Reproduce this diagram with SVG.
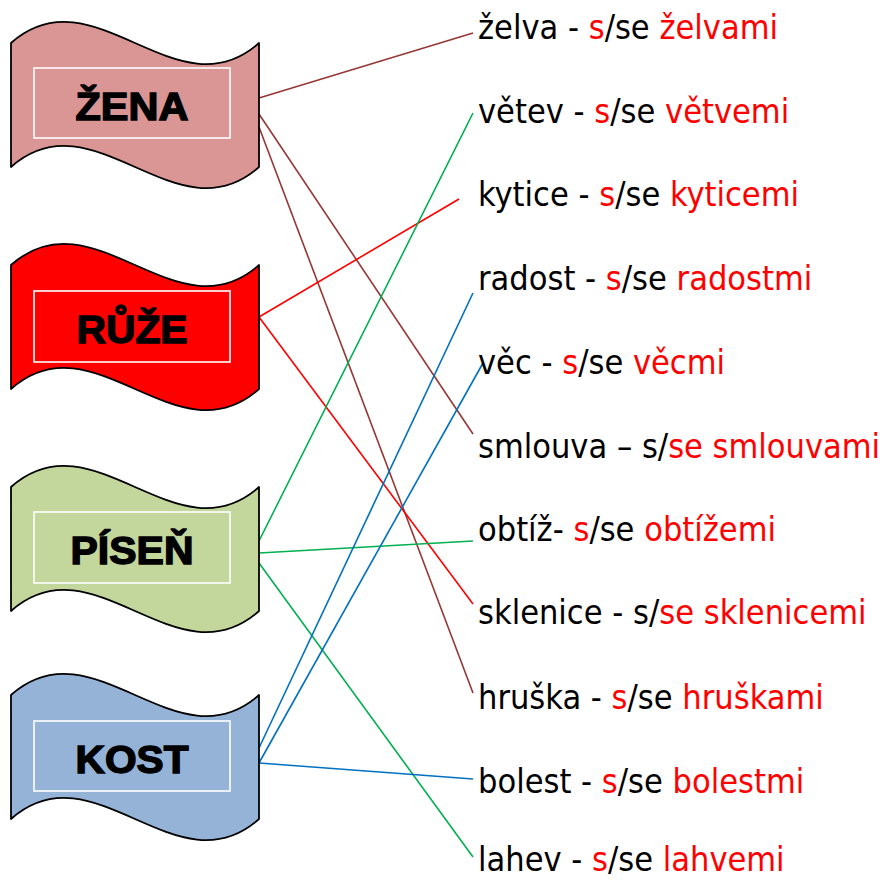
<svg xmlns="http://www.w3.org/2000/svg" width="885" height="881" viewBox="0 0 885 881">
<style>
.flag{stroke:#000;stroke-width:1.8;stroke-linejoin:round}
.inner{fill:none;stroke:#fff;stroke-width:1.6}
.lbl{font-family:"Liberation Sans",Arial,sans-serif;font-weight:bold;font-size:38px;fill:#000;stroke:#000;stroke-width:1.4;text-anchor:middle}
.w{font-family:"DejaVu Sans Condensed","DejaVu Sans",sans-serif;font-stretch:condensed;font-size:34px;fill:#000}
.r{fill:#ff0000}
.c line{stroke-width:1.6}
.br{stroke:#953735}.rd{stroke:#ff0000}.gr{stroke:#00b050}.bl{stroke:#0070c0}
</style>
<defs>
<path id="wave" d="M11,0 C93.7,-73 176.3,73 259,0 L259,124 C176.3,197 93.7,51 11,124 Z"/>
</defs>
<g id="connectors" class="c">
<line class="br" x1="259" y1="98" x2="473" y2="33"/>
<line class="br" x1="259" y1="114" x2="473" y2="434"/>
<line class="br" x1="259" y1="127" x2="473" y2="693"/>
<line class="rd" x1="259" y1="317" x2="459" y2="199"/>
<line class="rd" x1="259" y1="317" x2="473" y2="604"/>
<line class="gr" x1="259" y1="541" x2="473" y2="113"/>
<line class="gr" x1="259" y1="553" x2="473" y2="541"/>
<line class="gr" x1="259" y1="563" x2="473" y2="857"/>
<line class="bl" x1="259" y1="748" x2="473" y2="293"/>
<line class="bl" x1="259" y1="763" x2="483" y2="363"/>
<line class="bl" x1="259" y1="763" x2="473" y2="779"/>
</g>
<g id="node-zena" transform="translate(0,43)">
<use href="#wave" class="flag" fill="#d99694"/>
<rect class="inner" x="34" y="25" width="196" height="70"/>
<text class="lbl" x="132" y="77" textLength="113" lengthAdjust="spacingAndGlyphs">ŽENA</text>
</g>
<g id="node-ruze" transform="translate(0,265)">
<use href="#wave" class="flag" fill="#ff0000"/>
<rect class="inner" x="34" y="26" width="196" height="71"/>
<text class="lbl" x="132" y="78" textLength="111" lengthAdjust="spacingAndGlyphs">RŮŽE</text>
</g>
<g id="node-pisen" transform="translate(0,487)">
<use href="#wave" class="flag" fill="#c3d69b"/>
<rect class="inner" x="34" y="25" width="196" height="71"/>
<text class="lbl" x="132" y="77" textLength="123" lengthAdjust="spacingAndGlyphs">PÍSEŇ</text>
</g>
<g id="node-kost" transform="translate(0,695)">
<use href="#wave" class="flag" fill="#95b3d7"/>
<rect class="inner" x="34" y="26" width="196" height="70"/>
<text class="lbl" x="132" y="78" textLength="113" lengthAdjust="spacingAndGlyphs">KOST</text>
</g>
<g id="words">
<text class="w" x="478" y="39">želva - <tspan class="r">s</tspan>/se <tspan class="r">želvami</tspan></text>
<text class="w" x="478" y="123">větev - <tspan class="r">s</tspan>/se <tspan class="r">větvemi</tspan></text>
<text class="w" x="478" y="206">kytice - <tspan class="r">s</tspan>/se <tspan class="r">kyticemi</tspan></text>
<text class="w" x="478" y="290">radost - <tspan class="r">s</tspan>/se <tspan class="r">radostmi</tspan></text>
<text class="w" x="478" y="374">věc - <tspan class="r">s</tspan>/se <tspan class="r">věcmi</tspan></text>
<text class="w" x="478" y="458">smlouva – s/<tspan class="r">se smlouvami</tspan></text>
<text class="w" x="478" y="541">obtíž- <tspan class="r">s</tspan>/se <tspan class="r">obtížemi</tspan></text>
<text class="w" x="478" y="624">sklenice - s/<tspan class="r">se sklenicemi</tspan></text>
<text class="w" x="478" y="709">hruška - <tspan class="r">s</tspan>/se <tspan class="r">hruškami</tspan></text>
<text class="w" x="478" y="793">bolest - <tspan class="r">s</tspan>/se <tspan class="r">bolestmi</tspan></text>
<text class="w" x="478" y="871">lahev - <tspan class="r">s</tspan>/se <tspan class="r">lahvemi</tspan></text>
</g>
</svg>
